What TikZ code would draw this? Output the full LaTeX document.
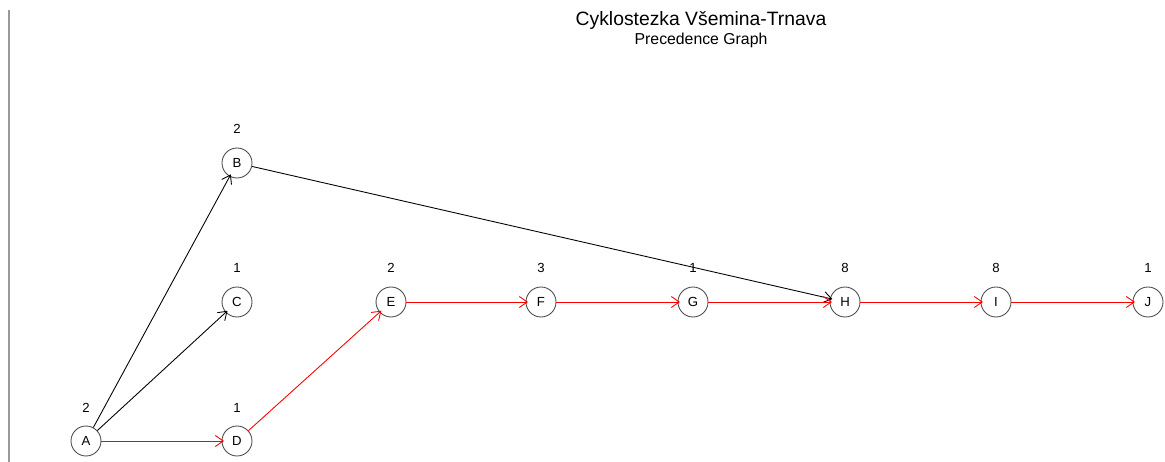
\documentclass[tikz,border=0pt]{standalone}
\usepackage{fontspec}
\setmainfont{Liberation Sans}
\usetikzlibrary{arrows.meta}
\tikzset{
  task/.style={circle,draw=black!70,line width=0.5pt,minimum size=0.6cm,inner sep=0pt,font=\fontsize{7.5}{8}\selectfont},
  dur/.style={font=\fontsize{7.5}{8}\selectfont},
  edge/.style={line width=0.5pt,shorten >=-0.05cm,-{Straight Barb[length=1.6mm,width=2.2mm]}},
  crit/.style={edge,red}
}
\begin{document}
\begin{tikzpicture}[x=0.02cm,y=-0.02cm]
    \useasboundingbox (0,0) rectangle (1165,462);
    \draw[black!40,line width=1pt] (9,10) -- (9,462);

    \node[font=\fontsize{11}{12}\selectfont] (title) at (701,20) {Cyklostezka Všemina-Trnava};
    \node[font=\fontsize{9}{10}\selectfont] (subtitle) at (701,40) {Precedence Graph};

    \node[task] (A) at (86,441) {A};
    \node[task] (B) at (237,163) {B};
    \node[task] (C) at (237,302) {C};
    \node[task] (D) at (237,441) {D};
    \node[task] (E) at (391,302) {E};
    \node[task] (F) at (541,302) {F};
    \node[task] (G) at (693,302) {G};
    \node[task] (H) at (845,302) {H};
    \node[task] (I) at (996,302) {I};
    \node[task] (J) at (1148,302) {J};

    \node[dur] at (86,408) {2};
    \node[dur] at (237,129) {2};
    \node[dur] at (237,268) {1};
    \node[dur] at (237,408) {1};
    \node[dur] at (391,268) {2};
    \node[dur] at (541,268) {3};
    \node[dur] at (693,268) {1};
    \node[dur] at (845,268) {8};
    \node[dur] at (996,268) {8};
    \node[dur] at (1148,268) {1};

    \draw[edge] (A) -- (B);
    \draw[edge] (A) -- (C);
    \draw[edge] (B) -- (H);
    \draw[crit] (A) -- (D);
    \draw[crit] (D) -- (E);
    \draw[crit] (E) -- (F);
    \draw[crit] (F) -- (G);
    \draw[crit] (G) -- (H);
    \draw[crit] (H) -- (I);
    \draw[crit] (I) -- (J);
\end{tikzpicture}
\end{document}
